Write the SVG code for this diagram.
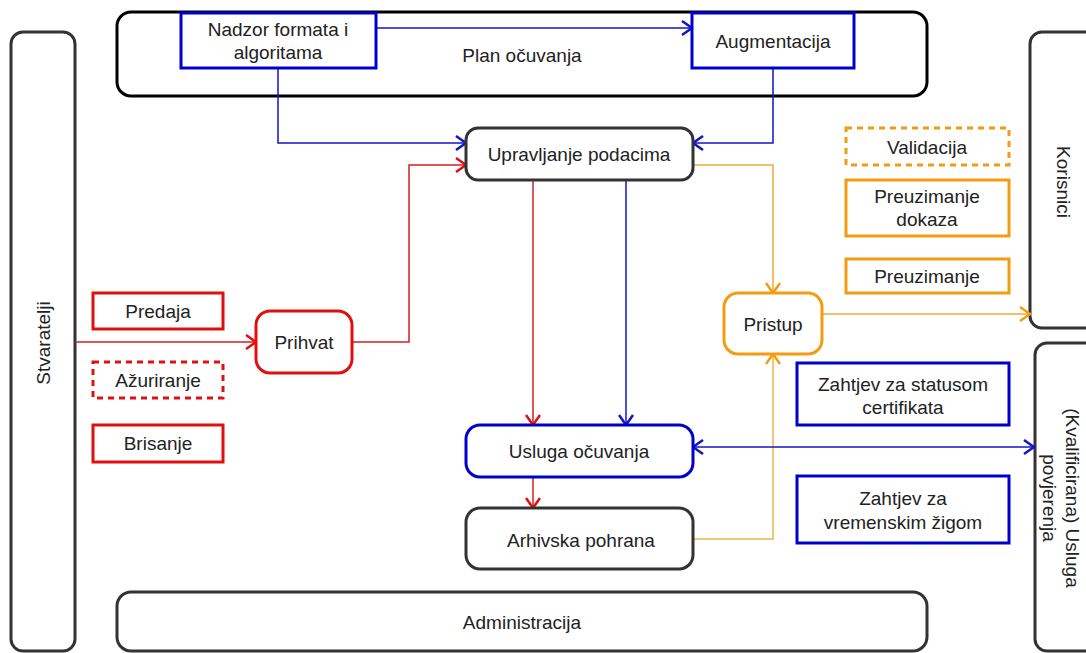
<svg xmlns="http://www.w3.org/2000/svg" width="1086" height="653" viewBox="0 0 1086 653">
<style>
text{font-family:"Liberation Sans",Arial,sans-serif;font-size:19px;fill:#222;text-anchor:middle;dominant-baseline:central}
.gray{fill:#fff;stroke:#333;stroke-width:3}
.black{fill:#fff;stroke:#000;stroke-width:3}
.blue{fill:#fff;stroke:#0000cc;stroke-width:3}
.red{fill:#fff;stroke:#e01010;stroke-width:3}
.redd{fill:#fff;stroke:#e01010;stroke-width:3;stroke-dasharray:6 5}
.orange{fill:#fff;stroke:#f39c12;stroke-width:3}
.oranged{fill:#fff;stroke:#f39c12;stroke-width:3;stroke-dasharray:6 5}
.c{fill:none;stroke-width:1.5}
.cb{stroke:#1414c8}
.cr{stroke:#d42020}
.co{stroke:#f2a83a}
.cg{stroke:#e8b84a}
</style>
<defs>
<marker id="ab" markerUnits="userSpaceOnUse" markerWidth="14" markerHeight="16" refX="11" refY="8" orient="auto-start-reverse"><path d="M1,1 L11,8 L1,15" fill="none" stroke="#1414c8" stroke-width="2.5"/></marker>
<marker id="ar" markerUnits="userSpaceOnUse" markerWidth="14" markerHeight="16" refX="11" refY="8" orient="auto"><path d="M1,1 L11,8 L1,15" fill="none" stroke="#e01010" stroke-width="2.5"/></marker>
<marker id="ao" markerUnits="userSpaceOnUse" markerWidth="14" markerHeight="16" refX="11" refY="8" orient="auto"><path d="M1,1 L11,8 L1,15" fill="none" stroke="#f39c12" stroke-width="2.5"/></marker>
</defs>
<rect width="1086" height="653" fill="#fff"/>

<g id="stvaratelji"><rect class="gray" x="11" y="32" width="64" height="619" rx="12"/><text transform="translate(43,343) rotate(-90)">Stvaratelji</text></g>
<g id="plan"><rect class="black" x="117" y="12" width="810" height="84" rx="14"/><text x="522" y="55">Plan očuvanja</text></g>
<g id="administracija"><rect class="gray" x="117" y="592" width="810" height="59" rx="14"/><text x="522" y="622">Administracija</text></g>
<g id="korisnici"><rect class="gray" x="1030" y="32" width="80" height="296" rx="12"/><text transform="translate(1063,182) rotate(90)">Korisnici</text></g>
<g id="kvalificirana"><rect class="gray" x="1035" y="343" width="80" height="308" rx="12"/><text transform="translate(1062,498) rotate(90)"><tspan x="0" y="-11">(Kvalificirana) Usluga</tspan><tspan x="0" y="12">povjerenja</tspan></text></g>

<g id="connectors">
<path class="c cb" d="M376,28 H692" marker-end="url(#ab)"/>
<path class="c cb" d="M278,68 V143 H466" marker-end="url(#ab)"/>
<path class="c cb" d="M773,68 V143 H693" marker-end="url(#ab)"/>
<path class="c cr" d="M352,342 H409 V165 H466" marker-end="url(#ar)"/>
<path class="c cr" d="M75,342 H256" marker-end="url(#ar)"/>
<path class="c cr" d="M533,180 V425" marker-end="url(#ar)"/>
<path class="c cb" d="M626,180 V425" marker-end="url(#ab)"/>
<path class="c cr" d="M533,477 V508" marker-end="url(#ar)"/>
<path class="c co" d="M693,165 H773 V293" marker-end="url(#ao)"/>
<path class="c co" d="M822,314 H1030" marker-end="url(#ao)"/>
<path class="c cg" d="M693,539 H773 V354" marker-end="url(#ao)"/>
<path class="c cb" d="M693,447 H1034" marker-start="url(#ab)" marker-end="url(#ab)"/>
</g>

<g id="nadzor"><rect class="blue" x="181" y="13" width="195" height="55"/><text x="278" y="29">Nadzor formata i</text><text x="278" y="52">algoritama</text></g>
<g id="augmentacija"><rect class="blue" x="692" y="13" width="162" height="55"/><text x="773" y="41">Augmentacija</text></g>
<g id="upravljanje"><rect class="gray" x="466" y="128" width="227" height="52" rx="12"/><text x="579" y="154">Upravljanje podacima</text></g>
<g id="usluga"><rect class="blue" x="466" y="425" width="227" height="52" rx="14"/><text x="579" y="451">Usluga očuvanja</text></g>
<g id="arhivska"><rect class="gray" x="466" y="508" width="227" height="61" rx="14"/><text x="581" y="540">Arhivska pohrana</text></g>
<g id="pristup"><rect class="orange" x="724" y="293" width="98" height="61" rx="14"/><text x="773" y="324">Pristup</text></g>
<g id="prihvat"><rect class="red" x="256" y="311" width="96" height="62" rx="14"/><text x="304" y="342">Prihvat</text></g>
<g id="predaja"><rect class="red" x="93" y="293" width="130" height="36"/><text x="158" y="311">Predaja</text></g>
<g id="azuriranje"><rect class="redd" x="93" y="362" width="130" height="36"/><text x="158" y="380">Ažuriranje</text></g>
<g id="brisanje"><rect class="red" x="93" y="425" width="130" height="37"/><text x="158" y="443">Brisanje</text></g>
<g id="validacija"><rect class="oranged" x="846" y="128" width="163" height="37"/><text x="927" y="147">Validacija</text></g>
<g id="preuzimanje-dokaza"><rect class="orange" x="846" y="180" width="163" height="56"/><text x="927" y="196">Preuzimanje</text><text x="927" y="219">dokaza</text></g>
<g id="preuzimanje"><rect class="orange" x="846" y="259" width="163" height="34"/><text x="927" y="276">Preuzimanje</text></g>
<g id="zahtjev-status"><rect class="blue" x="797" y="363" width="212" height="62"/><text x="903" y="384">Zahtjev za statusom</text><text x="903" y="407">certifikata</text></g>
<g id="zahtjev-zig"><rect class="blue" x="797" y="476" width="212" height="67"/><text x="903" y="498">Zahtjev za</text><text x="903" y="522">vremenskim žigom</text></g>
</svg>
